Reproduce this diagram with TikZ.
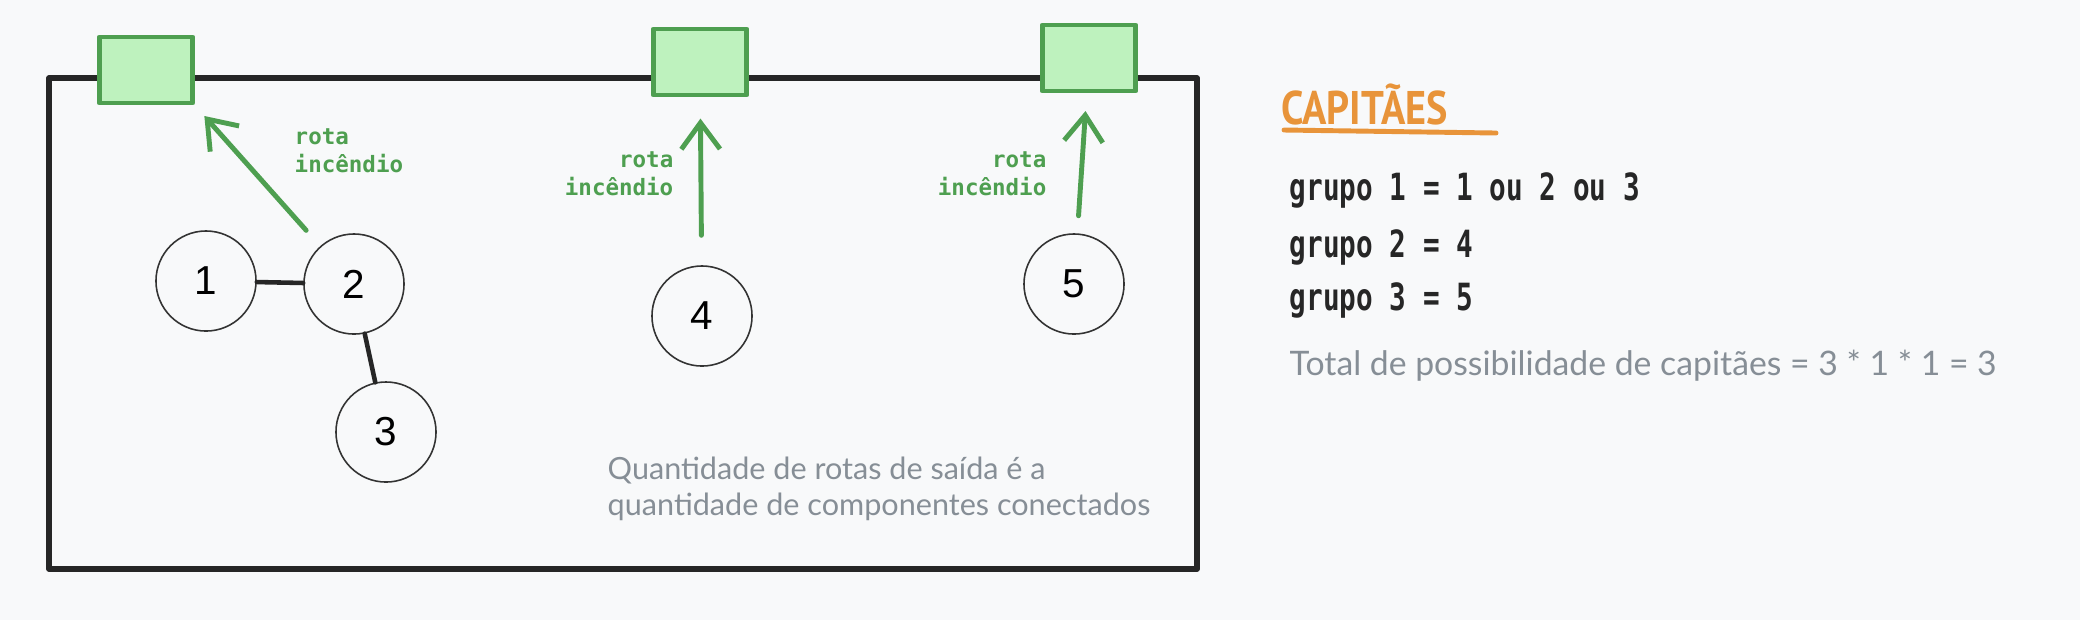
\documentclass[tikz,border=0pt]{standalone}
\usepackage{fontspec}
\usetikzlibrary{arrows.meta}
\setmainfont{Liberation Sans}
\newfontfamily\monoFont{DejaVu Sans Mono}
\newfontfamily\noteFont{Lato}
\newfontfamily\titleFont{PT Sans}
\definecolor{routeGreen}{HTML}{4E9F50}
\definecolor{exitFill}{HTML}{BEF2BE}
\definecolor{titleOrange}{HTML}{E8943A}
\definecolor{noteGray}{HTML}{868E96}
\definecolor{paperColor}{HTML}{F8F9FA}
\def\roomSize{1cm}
\tikzset{
	room/.style={circle, draw=black!80, line width=0.45pt, minimum size=\roomSize, inner sep=0, font=\fontsize{11.5}{13}\selectfont},
	exitBox/.style={draw=routeGreen, fill=exitFill, line width=1.4pt, minimum width=0.93cm, minimum height=0.66cm, inner sep=0},
	route/.style={draw=routeGreen, line width=1.4pt, -{Straight Barb[length=7.5pt, width=11pt]}},
	routeLabel/.style={text=routeGreen, font=\monoFont\bfseries\fontsize{6.4}{8}\selectfont, inner sep=0},
	link/.style={draw=black!85, line width=1.3pt},
	groupLine/.style={anchor=west, inner sep=0, font=\monoFont\fontsize{8.2}{10}\selectfont, text=black!85},
	noteText/.style={inner sep=0, text=noteGray, font=\noteFont\fontsize{8.7}{10.4}\selectfont}
}

\begin{document}
\begin{tikzpicture}[x=0.01cm, y=-0.01cm, line cap=round, line join=round]
	\fill[paperColor] (0,0) rectangle (2080,620);
	\useasboundingbox (0,0) rectangle (2080,620);
	\draw[line width=1.5pt, draw=black!85] (49,78) rectangle (1197,569);
	\foreach \k/\ex/\ey in {1/146/70, 2/700/62, 3/1089/58} {
		\node[exitBox] (e\k) at (\ex,\ey) {};
	}
	\foreach \n/\cx/\cy in {1/206/281, 2/354/284, 3/386/432, 4/702/316, 5/1074/284} {
		\node[room] (c\n) at (\cx,\cy) {\n};
	}
	\draw[link] (c1) -- (c2);
	\draw[link] (c2) -- (c3);
	\draw[route, shorten <=6pt, shorten >=4pt] (c2) -- (e1.south east);
	\draw[route, shorten <=8.5pt, shorten >=6pt] (c4) -- (e2);
	\draw[route, shorten <=5pt, shorten >=5pt] (c5) -- (e3);
	\node[routeLabel, anchor=west, align=left] (r1) at (294,151) {rota\\incêndio};
	\node[routeLabel, anchor=east, align=right] (r2) at (674,174) {rota\\incêndio};
	\node[routeLabel, anchor=east, align=right] (r3) at (1047,174) {rota\\incêndio};
	\node[noteText, anchor=west, align=left] (note) at (607,489) {Quantidade de rotas de saída é a\\quantidade de componentes conectados};
	\node[anchor=west, inner sep=0, text=titleOrange, font=\titleFont\bfseries\fontsize{11}{12}\selectfont] (title) at (1281,104) {\scalebox{1.04}[1.22]{CAPITÃES}};
	\draw[titleOrange, line width=1.4pt] (1284,130) -- (1496,133);
	\foreach \gy/\txt [count=\k] in {190/{grupo 1 = 1 ou 2 ou 3}, 247/{grupo 2 = 4}, 300/{grupo 3 = 5}} {
		\node[groupLine] (g\k) at (1289,\gy) {\scalebox{0.96}[1.3]{\bfseries\txt}};
	}
	\node[noteText, anchor=west, font=\noteFont\fontsize{9.6}{11}\selectfont] (total) at (1289,366) {Total de possibilidade de capitães = 3 * 1 * 1 = 3};
\end{tikzpicture}
\end{document}
